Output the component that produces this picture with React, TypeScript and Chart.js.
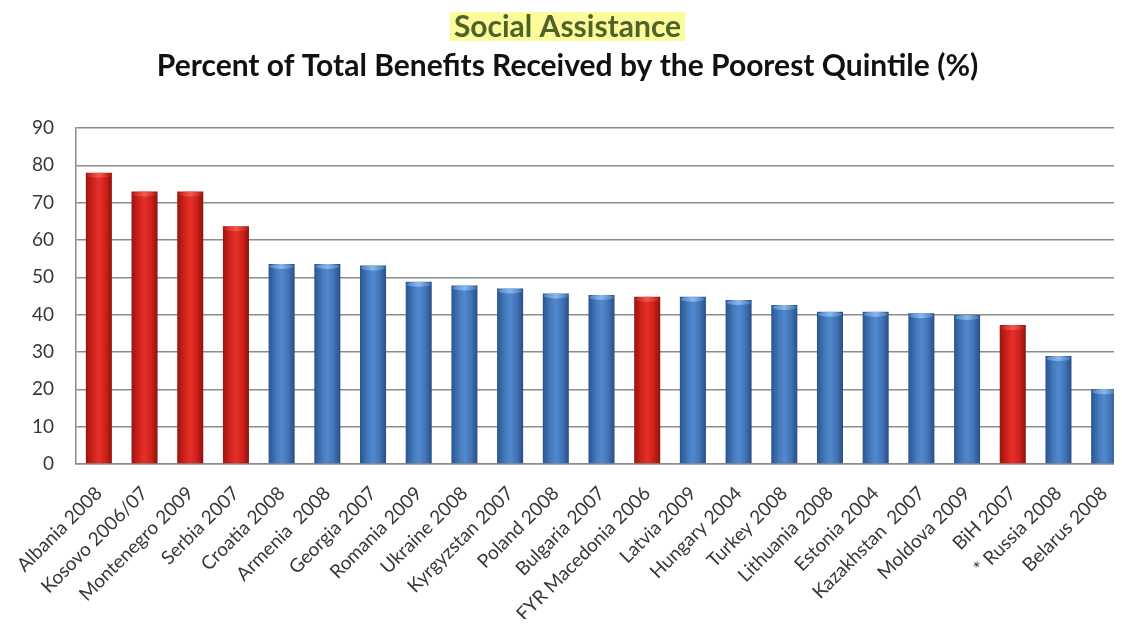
import React, { useEffect, useRef } from "react";
import { Chart, registerables } from "chart.js";

Chart.register(...registerables);

const TITLE = "Social Assistance";
const SUBTITLE = "Percent of Total Benefits Received by the Poorest Quintile (%)";

const categories = [
  "Albania 2008",
  "Kosovo 2006/07",
  "Montenegro 2009",
  "Serbia 2007",
  "Croatia 2008",
  "Armenia  2008",
  "Georgia 2007",
  "Romania 2009",
  "Ukraine 2008",
  "Kyrgyzstan 2007",
  "Poland 2008",
  "Bulgaria 2007",
  "FYR Macedonia 2006",
  "Latvia 2009",
  "Hungary 2004",
  "Turkey 2008",
  "Lithuania 2008",
  "Estonia 2004",
  "Kazakhstan  2007",
  "Moldova 2009",
  "BiH 2007",
  "* Russia 2008",
  "Belarus 2008",
];

const values = [
  78, 73, 73, 63.7, 53.6, 53.6, 53.2, 48.8, 47.8, 47, 45.7, 45.3, 44.8, 44.8,
  43.9, 42.6, 40.8, 40.8, 40.4, 39.9, 37.2, 28.9, 20,
];

const westernBalkans = [
  "Albania 2008",
  "Kosovo 2006/07",
  "Montenegro 2009",
  "Serbia 2007",
  "FYR Macedonia 2006",
  "BiH 2007",
];

const yTicks = [0, 10, 20, 30, 40, 50, 60, 70, 80, 90];

const FONT = "Lato, 'Open Sans', sans-serif";
const BAR_PCT = 0.57;
const TITLE_SIZE = 30;
const TITLE_PAD_TOP = 1;

const isRed = (i: number) => westernBalkans.includes(categories[i]);

function barFill(c: any) {
  const chart = c.chart;
  const red = c.dataIndex !== undefined && isRed(c.dataIndex);
  const base = red ? "#d8231c" : "#4578bd";
  const xs = chart.scales && chart.scales.x;
  if (!xs || c.type !== "data" || !xs.width) return base;
  const cx = xs.getPixelForValue(c.dataIndex);
  const half = (xs.width / categories.length) * BAR_PCT / 2;
  const g = chart.ctx.createLinearGradient(cx - half, 0, cx + half, 0);
  if (red) {
    g.addColorStop(0, "#9a1510");
    g.addColorStop(0.3, "#d4231b");
    g.addColorStop(0.5, "#e3312a");
    g.addColorStop(0.75, "#d0201a");
    g.addColorStop(1, "#8e120e");
  } else {
    g.addColorStop(0, "#2b558f");
    g.addColorStop(0.3, "#4479bd");
    g.addColorStop(0.5, "#5189cd");
    g.addColorStop(0.75, "#4274b8");
    g.addColorStop(1, "#284f86");
  }
  return g;
}

const highlightPlugin = {
  id: "titleHighlight",
  beforeDraw(chart: any) {
    const tb = chart.titleBlock;
    if (!tb) return;
    const ctx = chart.ctx;
    ctx.save();
    ctx.font = `bold ${TITLE_SIZE}px ${FONT}`;
    const w = ctx.measureText(TITLE).width;
    const cx = (tb.left + tb.right) / 2;
    const cy = tb.top + TITLE_PAD_TOP + (TITLE_SIZE * 1.2) / 2;
    ctx.fillStyle = "#fbfb9c";
    ctx.fillRect(cx - w / 2 - 4, cy - 15, w + 8, 29);
    ctx.restore();
  },
};

const capPlugin = {
  id: "barCaps",
  afterDatasetsDraw(chart: any) {
    const meta = chart.getDatasetMeta(0);
    const ctx = chart.ctx;
    ctx.save();
    meta.data.forEach((bar: any, i: number) => {
      const w = bar.width;
      const red = isRed(i);
      const g = ctx.createLinearGradient(bar.x - w / 2, 0, bar.x + w / 2, 0);
      if (red) {
        g.addColorStop(0, "#c01a14");
        g.addColorStop(0.5, "#f25a50");
        g.addColorStop(1, "#b81812");
      } else {
        g.addColorStop(0, "#4a80c4");
        g.addColorStop(0.5, "#8ab8ec");
        g.addColorStop(1, "#3f74b6");
      }
      ctx.fillStyle = g;
      ctx.beginPath();
      ctx.ellipse(bar.x, bar.y + 2.5, w / 2 - 1, 2.5, 0, 0, Math.PI * 2);
      ctx.fill();
    });
    ctx.restore();
  },
};

export default function App() {
  const ref = useRef<HTMLCanvasElement>(null);

  useEffect(() => {
    if (!ref.current) return;
    const chart = new Chart(ref.current, {
      type: "bar",
      data: {
        labels: categories,
        datasets: [
          {
            data: values,
            backgroundColor: barFill as any,
            borderWidth: 0,
            barPercentage: BAR_PCT,
            categoryPercentage: 1,
          },
        ],
      },
      plugins: [highlightPlugin, capPlugin],
      options: {
        animation: false,
        responsive: true,
        maintainAspectRatio: false,
        layout: { padding: { left: 0, right: 3, top: 0, bottom: 0 } },
        plugins: {
          legend: { display: false },
          tooltip: { enabled: false },
          title: {
            display: true,
            text: TITLE,
            color: "#4f6228",
            font: { family: FONT, size: TITLE_SIZE, weight: "bold" },
            padding: { top: TITLE_PAD_TOP, bottom: 0 },
          },
          subtitle: {
            display: true,
            text: SUBTITLE,
            color: "#111111",
            font: { family: FONT, size: 30, weight: "bold" },
            padding: { top: 3, bottom: 44 },
          },
        },
        scales: {
          x: {
            grid: { display: false, drawTicks: false },
            border: { display: true, color: "#8c8c8c", width: 1.5 },
            ticks: {
              color: "#383838",
              font: { family: FONT, size: 19 },
              minRotation: 45,
              maxRotation: 45,
              autoSkip: false,
              padding: 18,
            },
            afterFit(scale: any) {
              scale.height = 163;
              scale.paddingLeft = 0;
              scale.paddingRight = 0;
            },
          },
          y: {
            min: 0,
            max: 90,
            afterBuildTicks(scale: any) {
              scale.ticks = yTicks.map((v) => ({ value: v }));
            },
            afterFit(scale: any) {
              scale.width = 68;
            },
            grid: { color: "#8c8c8c", lineWidth: 1.5, drawTicks: false },
            border: { display: true, color: "#8c8c8c", width: 1.5 },
            ticks: {
              color: "#383838",
              font: { family: FONT, size: 19 },
              padding: 22,
            },
          },
        },
      },
    });
    return () => chart.destroy();
  }, []);

  return (
    <div style={{ width: 1114, height: 619, overflow: "hidden", marginBottom: -8 }}>
      <div style={{ width: 1122, height: 619, position: "relative" }}>
        <canvas ref={ref} />
      </div>
    </div>
  );
}
